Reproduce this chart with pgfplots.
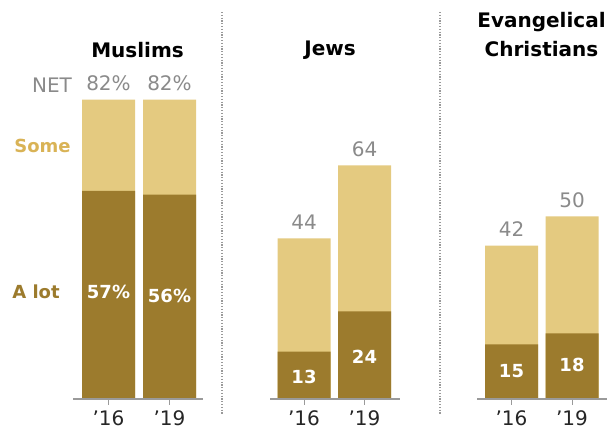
\documentclass[border=0pt]{standalone}
\usepackage{pgfplots}
\pgfplotsset{compat=1.18}
\usepackage{fontspec}
\setmainfont{DejaVu Sans}

\definecolor{some}{HTML}{E4CA80}
\definecolor{alot}{HTML}{9C7B2D}
\definecolor{sometxt}{HTML}{D9B356}
\definecolor{greytxt}{HTML}{8A8A8A}
\definecolor{rule}{HTML}{9A9A9A}

\newcommand{\numfont}{\fontsize{20bp}{20bp}\selectfont}
\newcommand{\inbarfont}{\bfseries\fontsize{18bp}{18bp}\selectfont}
\newcommand{\titlefont}{\bfseries\fontsize{20bp}{29bp}\selectfont}

\tikzset{
    tk/.style={rule, line width=1bp},
    yr/.style={font=\numfont, text=black!85},
    sep/.style={rule, line width=1.2bp, dash pattern=on 1.2bp off 1.6bp},
}

\begin{document}
\begin{tikzpicture}
\begin{axis}[
    width=610bp, height=430bp, scale only axis,
    xmin=0, xmax=610, ymin=-8.49, ymax=109.3,
    hide axis, clip=false,
]
% keep the whole axis box as the picture's extent
\path (rel axis cs:0,0) rectangle (rel axis cs:1,1);
% NET (Some + A lot)
\addplot[ybar, bar width=53, bar shift=0pt, fill=some, draw=none,
    point meta=explicit symbolic, nodes near coords,
    every node near coord/.append style={font=\numfont, text=greytxt,
        anchor=south, inner sep=0pt, yshift=8.5bp}]
    coordinates {(108.5,82)[82\%] (169.5,82)[82\%] (304,44)[44]
                 (364.5,64)[64] (511.5,42)[42] (572,50)[50]};
% A lot
\addplot[ybar, bar width=53, bar shift=0pt, fill=alot, draw=none]
    coordinates {(108.5,57) (169.5,56) (304,13)
                 (364.5,24) (511.5,15) (572,18)};
% labels inside the dark segments
\addplot[draw=none, mark=none, point meta=explicit symbolic,
    nodes near coords,
    every node near coord/.append style={font=\inbarfont, text=white, anchor=center}]
    coordinates {(108.5,29.4)[57\%] (169.5,28.3)[56\%] (304,6.0)[13]
                 (364.5,11.6)[24] (511.5,7.6)[15] (572,9.4)[18]};

% baselines
\draw[rule, line width=1.2bp] (axis cs:73,0) -- (axis cs:203,0);
\draw[rule, line width=1.2bp] (axis cs:270,0) -- (axis cs:400,0);
\draw[rule, line width=1.2bp] (axis cs:477,0) -- (axis cs:607,0);
% ticks
\draw[tk] (axis cs:108.5,0) -- (axis cs:108.5,-1.64);
\draw[tk] (axis cs:169.5,0) -- (axis cs:169.5,-1.64);
\draw[tk] (axis cs:304,0) -- (axis cs:304,-1.64);
\draw[tk] (axis cs:364.5,0) -- (axis cs:364.5,-1.64);
\draw[tk] (axis cs:511.5,0) -- (axis cs:511.5,-1.64);
\draw[tk] (axis cs:572,0) -- (axis cs:572,-1.64);
% year labels
\node[yr] at (axis cs:108.5,-5.2) {’16};
\node[yr] at (axis cs:169.5,-5.2) {’19};
\node[yr] at (axis cs:304,-5.2) {’16};
\node[yr] at (axis cs:364.5,-5.2) {’19};
\node[yr] at (axis cs:511.5,-5.2) {’16};
\node[yr] at (axis cs:572,-5.2) {’19};

% separators
\draw[sep] (axis cs:222,106) -- (axis cs:222,-4.4);
\draw[sep] (axis cs:440,106) -- (axis cs:440,-4.4);

% group titles
\node[font=\titlefont] at (axis cs:137.5,95.6) {Muslims};
\node[font=\titlefont] at (axis cs:330,95.6) {Jews};
\node[font=\titlefont, align=center] at (axis cs:541.5,99.7) {Evangelical\\Christians};

% row labels
\node[font=\numfont, text=greytxt] at (axis cs:52,86.0) {NET};
\node[font=\bfseries\fontsize{18bp}{18bp}\selectfont, text=sometxt] at (axis cs:42.5,69.4) {Some};
\node[font=\bfseries\fontsize{18bp}{18bp}\selectfont, text=alot] at (axis cs:36,29.3) {A lot};
\end{axis}
\end{tikzpicture}
\end{document}
